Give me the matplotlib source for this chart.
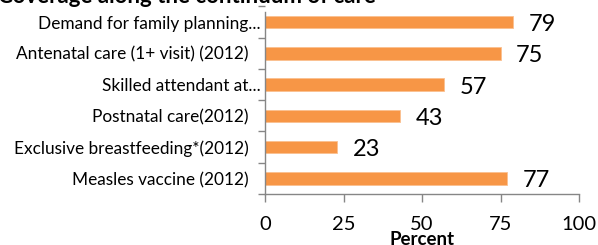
import matplotlib
matplotlib.use("Agg")
import matplotlib.pyplot as plt
from matplotlib.transforms import ScaledTranslation
import numpy as np

plt.rcParams["font.family"] = ["Lato", "DejaVu Sans"]

# Data (top to bottom as shown)
categories = [
    "Demand for family planning...",
    "Antenatal care (1+ visit) (2012)",
    "Skilled attendant at...",
    "Postnatal care(2012)",
    "Exclusive breastfeeding*(2012)",
    "Measles vaccine (2012)",
]
values = [79, 75, 57, 43, 23, 77]
x_ticks = [0, 25, 50, 75, 100]

bar_color = "#F79646"
axis_color = "#868686"

fig = plt.figure(figsize=(5.98, 2.45), dpi=100)
ax = fig.add_axes([265 / 598, 1 - 194 / 245, 314 / 598, 187.5 / 245])

y = np.arange(len(categories))[::-1]
ax.barh(y, values, height=0.4, color=bar_color, edgecolor="#FAC090", linewidth=0.6)

for yi, v in zip(y, values):
    ax.text(v + 5, yi - 0.08, str(v), va="center", ha="left", fontsize=17, color="black")

ax.set_xlim(0, 100)
ax.set_ylim(-0.5, len(categories) - 0.5)
ax.set_xticks(x_ticks)
ax.set_xticklabels([str(t) for t in x_ticks], fontsize=14.5)
ax.set_yticks(y)
ax.set_yticklabels(categories, fontsize=12.4)
ax.set_yticks(np.arange(-0.5, len(categories), 1.0), minor=True)
ax.tick_params(axis="y", which="major", length=0, pad=12)
ax.tick_params(axis="y", which="minor", length=5, color=axis_color, width=1)
ax.tick_params(axis="x", length=6, color=axis_color, width=1, pad=10)

# truncated labels hang a bit further right, as in the original
for lab in ax.get_yticklabels():
    if lab.get_text().endswith("..."):
        lab.set_transform(lab.get_transform() + ScaledTranslation(12 / 100, 0, fig.dpi_scale_trans))

for s in ["top", "right"]:
    ax.spines[s].set_visible(False)
for s in ["left", "bottom"]:
    ax.spines[s].set_color(axis_color)
    ax.spines[s].set_linewidth(1)
ax.spines["left"].set_bounds(-0.5, len(categories) - 0.68)

ax.set_xlabel("Percent", fontsize=13.5, fontweight="bold", labelpad=-1.5)

fig.text(-0.003, 1 - 3 / 245, "Coverage along the continuum of care",
         fontsize=16, fontweight="bold", va="baseline", ha="left")

fig.savefig("out.png", dpi=100)
